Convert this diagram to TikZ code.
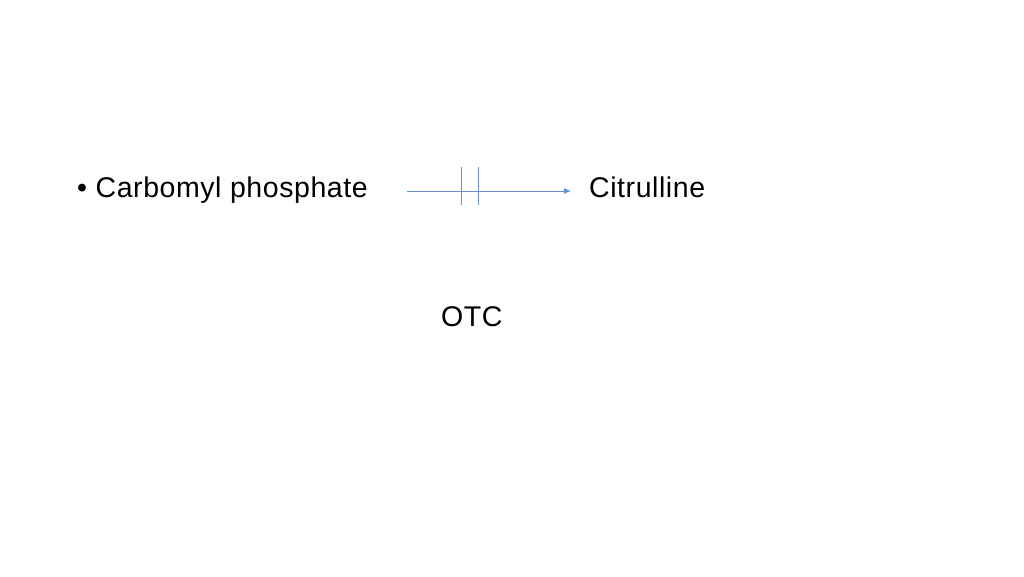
\documentclass[tikz,border=0pt]{standalone}
\usepackage{fontspec}
\setmainfont[LetterSpace=2]{Liberation Sans}
\usetikzlibrary{arrows.meta}
\definecolor{arrowblue}{HTML}{4472C4}
\begin{document}
\begin{tikzpicture}[x=1pt,y=-1pt,
                label text/.style={anchor=base west, inner sep=0pt, font=\fontsize{28.5}{34}\selectfont},
                bar line/.style={draw=arrowblue!80, line width=0.8pt}]
                \useasboundingbox (0,0) rectangle (1024,576);
                \node[label text] (carb) at (77,197) {\textbullet\ Carbomyl phosphate};
                \node[label text] (citr) at (589,197) {Citrulline};
                \node[label text] (otc) at (441,326) {OTC};
                \coordinate (start) at (407,191);
                \coordinate (end) at (571,191);
                \draw[bar line, -{Latex[length=7pt,width=6pt]}] (start) -- (end);
                \draw[bar line] (461,167) -- (461,205);
                \draw[bar line] (478,167) -- (478,205);
        \end{tikzpicture}
\end{document}
